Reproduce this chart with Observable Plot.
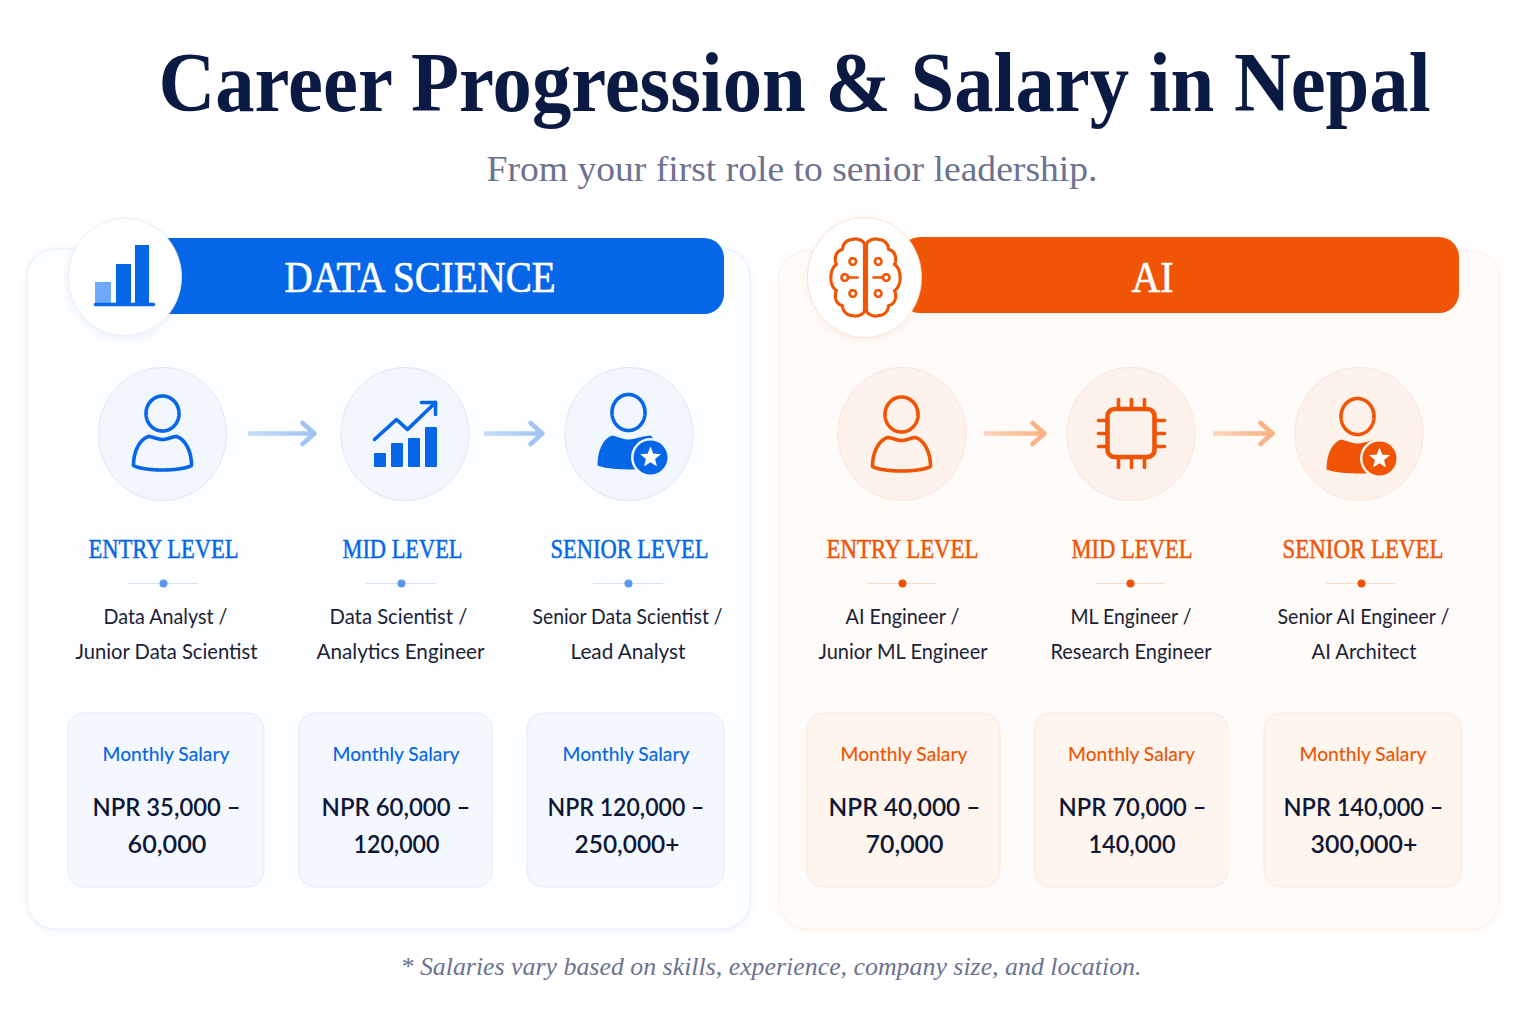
<!DOCTYPE html>
<html><head><meta charset="utf-8">
<script src="https://cdn.jsdelivr.net/npm/d3@7"></script>
<script src="https://cdn.jsdelivr.net/npm/@observablehq/plot@0.6"></script>
<style>html,body{margin:0;padding:0;background:#fff}svg{display:block}</style>
</head><body><div id="chart"></div>
<script>
// ---- Content ----
const titleText = "Career Progression & Salary in Nepal";
const subtitleText = "From your first role to senior leadership.";
const footnoteText = "* Salaries vary based on skills, experience, company size, and location.";
const salaryLabel = "Monthly Salary";
const levels = ["ENTRY LEVEL", "MID LEVEL", "SENIOR LEVEL"];
const dsRolesA = ["Data Analyst /", "Data Scientist /", "Senior Data Scientist /"];
const dsRolesB = ["Junior Data Scientist", "Analytics Engineer", "Lead Analyst"];
const aiRolesA = ["AI Engineer /", "ML Engineer /", "Senior AI Engineer /"];
const aiRolesB = ["Junior ML Engineer", "Research Engineer", "AI Architect"];
const dsSalaryA = ["NPR 35,000 –", "NPR 60,000 –", "NPR 120,000 –"];
const dsSalaryB = ["60,000", "120,000", "250,000+"];
const aiSalaryA = ["NPR 40,000 –", "NPR 70,000 –", "NPR 140,000 –"];
const aiSalaryB = ["70,000", "140,000", "300,000+"];

// ---- Fonts ----
const SERIF = "'Liberation Serif', serif";
const SANS = "Lato, 'Noto Sans', sans-serif";

// Render hook: squeezes each text of a mark to the width it has in the layout
const fit = widths => (index, scales, values, dims, ctx, next) => {
  const g = next(index, scales, values, dims, ctx);
  g.querySelectorAll("text").forEach((t, k) => {
    t.setAttribute("textLength", widths[k]);
    t.setAttribute("lengthAdjust", "spacingAndGlyphs");
  });
  return g;
};

// ---- Glyph helper: samples an SVG path string into points for Plot.line ----
const svgNS = "http://www.w3.org/2000/svg";
function glyph(d, ox, oy, id) {
  const subs = d.split(/(?=M)/).filter(s => s.trim());
  const out = [];
  subs.forEach((s, i) => {
    const p = document.createElementNS(svgNS, "path");
    p.setAttribute("d", s);
    const L = p.getTotalLength();
    const n = Math.max(2, Math.ceil(L / 0.5));
    for (let k = 0; k <= n; k++) {
      const q = p.getPointAtLength(L * k / n);
      out.push({x: q.x + ox, y: q.y + oy, z: id + "-" + i});
    }
  });
  return out;
}
const ell = (cx, cy, rx, ry) => `M${cx - rx} ${cy} A${rx} ${ry} 0 1 1 ${cx + rx} ${cy} A${rx} ${ry} 0 1 1 ${cx - rx} ${cy} Z `;
const circ = (cx, cy, r) => ell(cx, cy, r, r);
const strokeGlyph = (d, ox, oy, color, w, id) => Plot.line(glyph(d, ox, oy, id), {x:"x", y:"y", z:"z", stroke:color, strokeWidth:w, strokeLinejoin:"round", strokeLinecap:"round", curve:"linear"});
const fillGlyph = (d, ox, oy, color, id, o = {}) => Plot.line(glyph(d, ox, oy, id), {x:"x", y:"y", z:"z", fill:color, stroke:"none", curve:"linear-closed", ...o});

const BODY = "M0 6 C-5 6 -10 3 -14 3 C-23 6 -29 18 -29 32 C-18 38 18 38 29 32 C29 18 23 6 14 3 C10 3 5 6 0 6 Z";
const SOLID = "M0 6 C-5 6 -12 3 -16 2 C-26 5 -31 18 -31 32 C-20 36 -5 36 12 36 L30 10 L22 2 C12 3 5 6 0 6 Z";
const STAR = (() => { let s = ""; for (let i = 0; i < 10; i++) { const r = i % 2 ? 4.8 : 11; const a = -Math.PI / 2 + i * Math.PI / 5; s += (i ? "L" : "M") + (r * Math.cos(a)).toFixed(2) + " " + (r * Math.sin(a)).toFixed(2) + " "; } return s + "Z"; })();

function personIcon(cx, cy, c) {
  return [strokeGlyph(ell(0, -20, 16.5, 17.5), cx, cy, c, 3.6, "h" + cx), strokeGlyph(BODY, cx, cy, c, 3.6, "b" + cx)];
}
function seniorIcon(cx, cy, bx, by, c, tint) {
  return [
    strokeGlyph(ell(0, -21, 16.5, 18), cx, cy, c, 3.6, "sh" + cx),
    fillGlyph(SOLID, cx, cy, c, "sb" + cx),
    Plot.dot([0], {x: () => bx, y: () => by, r: 19.5, fill: tint, stroke: "none"}),
    Plot.dot([0], {x: () => bx, y: () => by, r: 17, fill: c, stroke: "none"}),
    fillGlyph(STAR, bx, by, "#fff", "st" + cx)
  ];
}
function trendIcon(c) {
  const bars = [[374, 386, 453], [391, 403, 443], [408, 420, 438], [425, 437, 427]];
  return [
    Plot.rect(bars, {x1: d => d[0], x2: d => d[1], y1: d => d[2], y2: () => 467, fill: c, rx: 1}),
    strokeGlyph("M374 439 L396 419 L407 429 L435 402 M421 402 L435 402 L435 414", 0, 0, c, 3.6, "tr")
  ];
}
function chipIcon(cx, cy, c) {
  const pins = [-13, 0, 13].map(o => `M${o} -34 L${o} -25 M${o} 25 L${o} 34 M-33 ${o} L-25 ${o} M25 ${o} L33 ${o}`).join(" ");
  return [
    Plot.rect([0], {x1: () => cx - 23.5, x2: () => cx + 23.5, y1: () => cy - 24, y2: () => cy + 24, fill: "none", stroke: c, strokeWidth: 4.6, rx: 7}),
    strokeGlyph(pins, cx, cy, c, 3.6, "pin")
  ];
}
function barsIcon(c, light) {
  return [
    Plot.rect([[95, 111, 282, light], [116, 131, 264, c], [135, 149, 245, c]], {x1: d => d[0], x2: d => d[1], y1: d => d[2], y2: () => 303, fill: d => d[3]}),
    strokeGlyph("M95 304 L153 304", 0, 0, c, 3.5, "base")
  ];
}
function brainIcon(cx, cy, c) {
  const half = s => `M${s} -33 C${s} -36 ${s*8} -40 ${s*13} -38 C${s*19} -38 ${s*23} -33 ${s*23} -28 C${s*29} -27 ${s*32} -20 ${s*29} -13 C${s*36} -9 ${s*37} 8 ${s*29} 13 C${s*32} 20 ${s*29} 27 ${s*23} 28 C${s*23} 33 ${s*19} 38 ${s*13} 38 C${s*8} 40 ${s} 36 ${s} 33 Z `;
  const inner = s => `M${s*8} 0 L${s*17.5} 0 ` + circ(s*20.7, 0, 3.3) + circ(s*12.7, -16, 3.3) + circ(s*12.7, 16, 3.3);
  return [
    strokeGlyph(half(-1) + half(1), cx, cy, c, 3.2, "brain"),
    strokeGlyph(inner(-1) + inner(1), cx, cy, c, 2.6, "brainin")
  ];
}
function arrowIcon(x1, x2, y, light, full) {
  const tip = x2 - 2;
  const steps = d3.range(12);
  const at = k => Math.round(x1 + (tip - x1) * k / 12);
  const mix = d3.interpolateRgb(light, full);
  return [
    Plot.ruleY(steps, {x1: k => at(k), x2: k => at(k + 1), y: () => y, stroke: k => d3.color(mix(k / 11)).formatHex(), strokeWidth: 4.6}),
    strokeGlyph(`M${tip - 12} ${y - 10.5} L${tip} ${y} L${tip - 12} ${y + 10.5}`, 0, 0, full, 4.6, "ar" + x1)
  ];
}

// ---- One career panel ----
function panel(p) {
  const idx = [0, 1, 2];
  const txt = (values, xs, y, widths, o) => Plot.text(idx, {text: i => values[i], x: i => xs[i], y: () => y, textAnchor: "middle", render: fit(widths), ...o});
  return [
    Plot.rect([0], {x1: () => p.box[0], x2: () => p.box[1], y1: () => p.box[2], y2: () => p.box[3], fill: p.panel, stroke: p.panelStroke, strokeWidth: 1.1, rx: 28, imageFilter: `drop-shadow(0 1px 3px ${p.shadow})`}),
    Plot.rect([0], {x1: () => p.bar[0], x2: () => p.bar[1], y1: () => p.bar[2], y2: () => p.bar[3], fill: p.color, rx: 20}),
    fillGlyph(ell(0, 0, p.badge[2], p.badge[3]), p.badge[0], p.badge[1], "#fff", "badge", {stroke: p.ring, strokeWidth: 1, imageFilter: `drop-shadow(0 3px 5px ${p.shadow})`}),
    Plot.text([p.name], {x: () => p.nameX, y: () => 277, text: d => d, fill: "#fff", stroke: "#fff", strokeWidth: 0.7, fontFamily: SERIF, fontSize: 44, textAnchor: "middle", render: fit([p.nameW])}),
    ...idx.map(i => fillGlyph(ell(0, 0, 64, 66.5), p.circles[i], 433.5, p.circle, "c" + i, {stroke: p.circleStroke, strokeWidth: 1})),
    ...p.icons,
    ...p.arrows.flatMap(a => arrowIcon(a[0], a[1], 433, p.arrowLight, p.arrow)),
    txt(levels, p.levelX, 549, p.levelW, {fill: p.color, stroke: p.color, strokeWidth: 0.5, fontFamily: SERIF, fontSize: 27}),
    Plot.ruleY(idx, {x1: i => p.divX[i] - 35, x2: i => p.divX[i] + 35, y: () => 583, stroke: p.divider, strokeWidth: 1}),
    Plot.dot(idx, {x: i => p.divX[i], y: () => 583, r: 4, fill: p.dot, stroke: "none"}),
    txt(p.rolesA, p.roleXA, 617, p.roleWA, {fill: "#1b2236", fontFamily: SANS, fontSize: 21}),
    txt(p.rolesB, p.roleXB, 652, p.roleWB, {fill: "#1b2236", fontFamily: SANS, fontSize: 21}),
    Plot.rect(idx, {x1: i => p.cards[i][0], x2: i => p.cards[i][1], y1: () => 713, y2: () => 887, fill: p.card, stroke: p.cardStroke, strokeWidth: 1, rx: 16}),
    Plot.text(idx, {text: () => salaryLabel, x: i => p.salX[i], y: () => 754.5, textAnchor: "middle", fill: p.color, fontFamily: SANS, fontSize: 20, fontWeight: 500, render: fit([127, 127, 127])}),
    txt(p.salA, p.salXA, 807, p.salWA, {fill: "#0e1836", fontFamily: SANS, fontSize: 25, fontWeight: 600}),
    txt(p.salB, p.salXB, 844, p.salWB, {fill: "#0e1836", fontFamily: SANS, fontSize: 25, fontWeight: 600})
  ];
}
const BLUE = "#0567e8", ORANGE = "#ef5505";
const ds = {
  name: "DATA SCIENCE", nameX: 419.5, nameW: 271, color: BLUE, panel: "#fdfeff", panelStroke: "#e8f0fb", shadow: "rgba(60,110,200,0.10)", ring: "#e4ecf8",
  box: [27, 750, 249, 929], bar: [150, 724, 238, 314], badge: [124.5, 276.5, 56.5, 58.5], circle: "#f2f6fd", circleStroke: "#d9e5f6", arrowLight: "#c6dcfa", arrow: "#a2c4f5", divider: "#d8e2f0", dot: "#5c96ee",
  card: "#f4f8fe", cardStroke: "#e0eaf7", circles: [162, 404.5, 628.5], arrows: [[248, 316], [484, 544]],
  levelX: [163, 402, 629], levelW: [150, 120, 158], divX: [163, 401, 628],
  roleXA: [165, 398, 627], roleWA: [124, 138, 190], roleXB: [166, 400, 627.5], roleWB: [182, 168, 115],
  salX: [165.5, 395.5, 625.5], salXA: [166, 395.5, 625.5], salWA: [148, 149, 157], salXB: [166.5, 396, 626.5], salWB: [79, 86, 105],
  cards: [[68, 264], [299, 492], [527, 724]], rolesA: dsRolesA, rolesB: dsRolesB, salA: dsSalaryA, salB: dsSalaryB,
  icons: [...barsIcon(BLUE, "#6ea8f8"), ...personIcon(162, 433, BLUE), ...trendIcon(BLUE), ...seniorIcon(628, 433, 650, 457, BLUE, "#f2f6fd")]
};
const ai = {
  name: "AI", nameX: 1152, nameW: 42, color: ORANGE, panel: "#fffbf8", panelStroke: "#fcf0e7", shadow: "rgba(230,120,50,0.09)", ring: "#f8dcc8",
  box: [779, 1499, 251, 929], bar: [900, 1459, 237, 313], badge: [864, 277, 57, 60], circle: "#fdf3ec", circleStroke: "#f9e3d4", arrowLight: "#fbd5bb", arrow: "#f8b283", divider: "#f6dccb", dot: ORANGE,
  card: "#fef5ee", cardStroke: "#fbe9dc", circles: [901.5, 1130.5, 1358.5], arrows: [[984, 1046], [1213, 1274]],
  levelX: [902, 1131.5, 1362.5], levelW: [152, 121, 161], divX: [902, 1130, 1361],
  roleXA: [902, 1130.5, 1363], roleWA: [114, 121, 172], roleXB: [902.5, 1130.5, 1363.5], roleWB: [169, 161, 105],
  salX: [903.5, 1131, 1362.5], salXA: [904, 1132, 1363], salWA: [152, 148, 160], salXB: [904, 1131.5, 1363.5], salWB: [78, 87, 107],
  cards: [[807, 1000], [1034, 1228], [1264, 1462]], rolesA: aiRolesA, rolesB: aiRolesB, salA: aiSalaryA, salB: aiSalaryB,
  icons: [...brainIcon(865, 277, ORANGE), ...personIcon(901, 434, ORANGE), ...chipIcon(1131, 433, ORANGE), ...seniorIcon(1357, 437, 1379, 458, ORANGE, "#fdf3ec")]
};

const chart = Plot.plot({
  width: 1536, height: 1024, margin: 0,
  x: {domain: [0, 1536], range: [0, 1536], axis: null},
  y: {domain: [0, 1024], range: [0, 1024], axis: null},
  style: {background: "#ffffff"},
  marks: [
    Plot.text([titleText], {x: () => 794, y: () => 84, text: d => d, fill: "#0b1a43", fontFamily: SERIF, fontSize: 84, fontWeight: 700, textAnchor: "middle", render: fit([1272])}),
    Plot.text([subtitleText], {x: () => 791.5, y: () => 169, text: d => d, fill: "#6b7390", fontFamily: SERIF, fontSize: 36, textAnchor: "middle", render: fit([611])}),
    ...panel(ds),
    ...panel(ai),
    Plot.text([footnoteText], {x: () => 770.5, y: () => 966, text: d => d, fill: "#6b7390", fontFamily: SERIF, fontSize: 25, fontStyle: "italic", textAnchor: "middle", render: fit([741])})
  ]
});
document.getElementById("chart").append(chart);
</script></body></html>
